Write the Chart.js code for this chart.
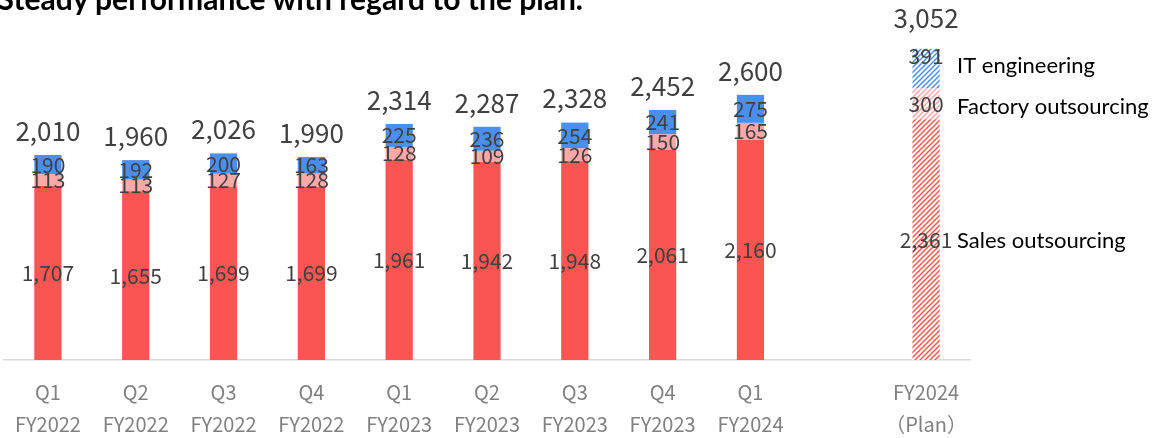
<!DOCTYPE html>
<html>
<head>
<meta charset="utf-8">
<script src="https://cdn.jsdelivr.net/npm/chart.js@4"></script>
<style>
  html, body { margin: 0; padding: 0; background: #fff; }
  #wrap { position: relative; width: 1153px; height: 438px; overflow: hidden; }
  #title {
    position: absolute; right: 570px; top: -20px;
    font: 700 30px Lato, "Open Sans", sans-serif; color: #000; white-space: nowrap;
  }
  canvas { position: absolute; left: 0; top: 0; }
</style>
</head>
<body>
<div id="wrap">
  <canvas id="chart" width="1153" height="438"></canvas>
  <div id="title">Steady performance with regard to the plan.</div>
</div>
<script>
const categories = [
  ["Q1", "FY2022"], ["Q2", "FY2022"], ["Q3", "FY2022"], ["Q4", "FY2022"],
  ["Q1", "FY2023"], ["Q2", "FY2023"], ["Q3", "FY2023"], ["Q4", "FY2023"],
  ["Q1", "FY2024"], ["", ""], ["FY2024", "（Plan）"]
];
const sales = [1707, 1655, 1699, 1699, 1961, 1942, 1948, 2061, 2160, null, 2361];
const factory = [113, 113, 127, 128, 128, 109, 126, 150, 165, null, 300];
const itEng = [190, 192, 200, 163, 225, 236, 254, 241, 275, null, 391];
const totals = [2010, 1960, 2026, 1990, 2314, 2287, 2328, 2452, 2600, null, 3052];
const seriesNames = ["Sales outsourcing", "Factory outsourcing", "IT engineering"];
const planIndex = 10;

const colors = ["#f85553", "#faa9a8", "#4a8fee"];

function hatch(color) {
  const c = document.createElement("canvas");
  c.width = 5; c.height = 5;
  const g = c.getContext("2d");
  g.fillStyle = "#fff";
  g.fillRect(0, 0, 5, 5);
  g.strokeStyle = color;
  g.lineWidth = 1.5;
  g.beginPath();
  g.moveTo(0, 5); g.lineTo(5, 0);
  g.moveTo(-1, 1); g.lineTo(1, -1);
  g.moveTo(4, 6); g.lineTo(6, 4);
  g.stroke();
  return g.createPattern(c, "repeat");
}

function fills(color) {
  return categories.map((_, i) => (i === planIndex ? hatch(color) : color));
}

const fmt = (v) => v.toLocaleString("en-US");
const numFont = '"Noto Sans CJK JP", "Noto Sans", sans-serif';

const labelsPlugin = {
  id: "labels",
  afterDatasetsDraw(chart) {
    const ctx = chart.ctx;
    ctx.save();
    ctx.textAlign = "center";
    ctx.textBaseline = "middle";
    ctx.fillStyle = "#404040";
    ctx.font = "21px " + numFont;
    chart.data.datasets.forEach((ds, i) => {
      chart.getDatasetMeta(i).data.forEach((bar, j) => {
        const v = ds.data[j];
        if (v == null) return;
        const { x, y, base } = bar.getProps(["x", "y", "base"], true);
        let ty = (y + base) / 2;
        if (j === planIndex && i === 2) ty = y + 7;
        ctx.fillText(fmt(v), x, ty);
      });
    });

    // totals above each bar
    const top = chart.getDatasetMeta(2).data;
    ctx.font = "26px " + numFont;
    totals.forEach((t, j) => {
      if (t == null) return;
      const off = j === planIndex ? 31 : 24;
      ctx.fillText(fmt(t), top[j].x, top[j].y - off);
    });

    // series names next to the plan bar
    ctx.textAlign = "left";
    ctx.fillStyle = "#000";
    ctx.font = '22px Lato, "Open Sans", sans-serif';
    const nudge = [1, 3, -3];
    chart.data.datasets.forEach((ds, i) => {
      const bar = chart.getDatasetMeta(i).data[planIndex];
      const { x, y, base } = bar.getProps(["x", "y", "base"], true);
      ctx.fillText(seriesNames[i], x + 31, (y + base) / 2 + nudge[i]);
    });
    ctx.restore();
  }
};

new Chart(document.getElementById("chart"), {
  type: "bar",
  data: {
    labels: categories,
    datasets: [
      { label: seriesNames[0], data: sales, backgroundColor: fills(colors[0]) },
      { label: seriesNames[1], data: factory, backgroundColor: fills(colors[1]) },
      { label: seriesNames[2], data: itEng, backgroundColor: fills(colors[2]) }
    ]
  },
  options: {
    responsive: false,
    animation: false,
    layout: { padding: { left: 4, right: 183, top: 0, bottom: 0 } },
    datasets: { bar: { categoryPercentage: 1, barPercentage: 0.31 } },
    plugins: { legend: { display: false }, tooltip: { enabled: false } },
    scales: {
      x: {
        stacked: true,
        grid: { display: false },
        border: { display: true, color: "#d9d9d9", width: 1.5 },
        ticks: {
          color: "#808080",
          padding: 8,
          maxRotation: 0,
          autoSkip: false,
          font: { family: numFont, size: 20, lineHeight: 32 / 20 }
        },
        afterFit(scale) { scale.height = 78; }
      },
      y: { stacked: true, display: false, min: 0, max: 3530 }
    }
  },
  plugins: [labelsPlugin]
});
</script>
</body>
</html>
